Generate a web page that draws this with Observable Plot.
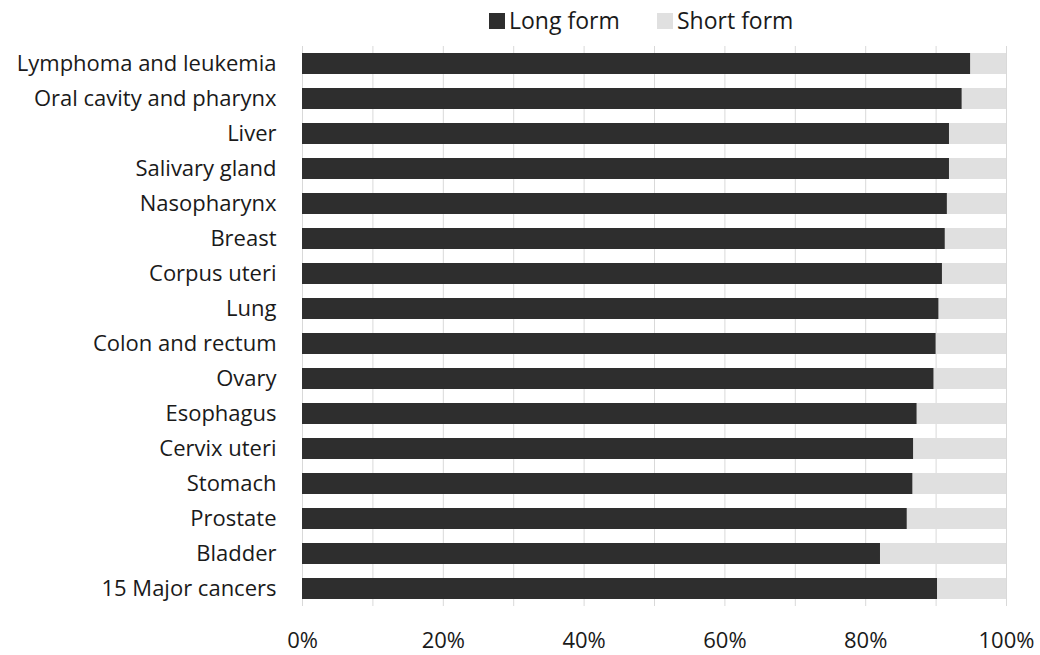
<!DOCTYPE html>
<html><head><meta charset="utf-8">
<script src="https://cdn.jsdelivr.net/npm/d3@7"></script>
<script src="https://cdn.jsdelivr.net/npm/@observablehq/plot@0.6"></script>
<style>
body{margin:0;background:#fff;font-family:"Open Sans",sans-serif;color:#1a1a1a;}
#wrap{position:relative;width:1040px;height:655px;}
#legend{position:relative;width:1040px;height:40px;}
.sw{position:absolute;top:13px;width:16px;height:16px;}
.lt{position:absolute;top:5px;font-size:23px;line-height:30px;white-space:nowrap;color:#1a1a1a;}
#chart svg{display:block;}
</style></head><body>
<div id="wrap"><div id="legend"></div><div id="chart"></div></div>
<script>
const categories = ["Lymphoma and leukemia","Oral cavity and pharynx","Liver","Salivary gland","Nasopharynx","Breast","Corpus uteri","Lung","Colon and rectum","Ovary","Esophagus","Cervix uteri","Stomach","Prostate","Bladder","15 Major cancers"];
const longForm = [0.949,0.937,0.919,0.919,0.916,0.913,0.909,0.904,0.900,0.897,0.873,0.868,0.867,0.859,0.821,0.902];
const seriesNames = ["Long form","Short form"];
const seriesColors = ["#2e2e2e","#e0e0e0"];
const xTicks = [0,0.2,0.4,0.6,0.8,1];
const gridTicks = [0,0.1,0.2,0.3,0.4,0.5,0.6,0.7,0.8,0.9,1];

const rows = categories.map((c,i)=>({name:c, long:longForm[i], total:1}));

const legend = document.getElementById("legend");
const legPos = [{sw:489, tx:509},{sw:657, tx:677}];
seriesNames.forEach((n,i)=>{
  const s=document.createElement("div"); s.className="sw"; s.style.left=legPos[i].sw+"px"; s.style.background=seriesColors[i]; legend.appendChild(s);
  const t=document.createElement("div"); t.className="lt"; t.style.left=legPos[i].tx+"px"; t.textContent=n; legend.appendChild(t);
});

const chart = Plot.plot({
  width:1040, height:615,
  marginLeft:302, marginRight:34, marginTop:6, marginBottom:49,
  style:{fontFamily:'"Open Sans",sans-serif', fontSize:"22px", color:"#1a1a1a", background:"#fff", overflow:"visible"},
  x:{domain:[0,1], ticks:xTicks, tickFormat:d3.format(".0%"), tickSize:0, tickPadding:26, label:null},
  y:{domain:categories, paddingInner:0.4, paddingOuter:0.2, tickSize:0, tickPadding:26, label:null},
  marks:[
    Plot.ruleX(gridTicks,{stroke:"#d9d9d9", strokeWidth:1}),
    Plot.barX(rows,{y:"name", x1:"long", x2:"total", fill:seriesColors[1]}),
    Plot.barX(rows,{y:"name", x1:0, x2:"long", fill:seriesColors[0]})
  ]
});
document.getElementById("chart").appendChild(chart);
</script>
</body></html>
